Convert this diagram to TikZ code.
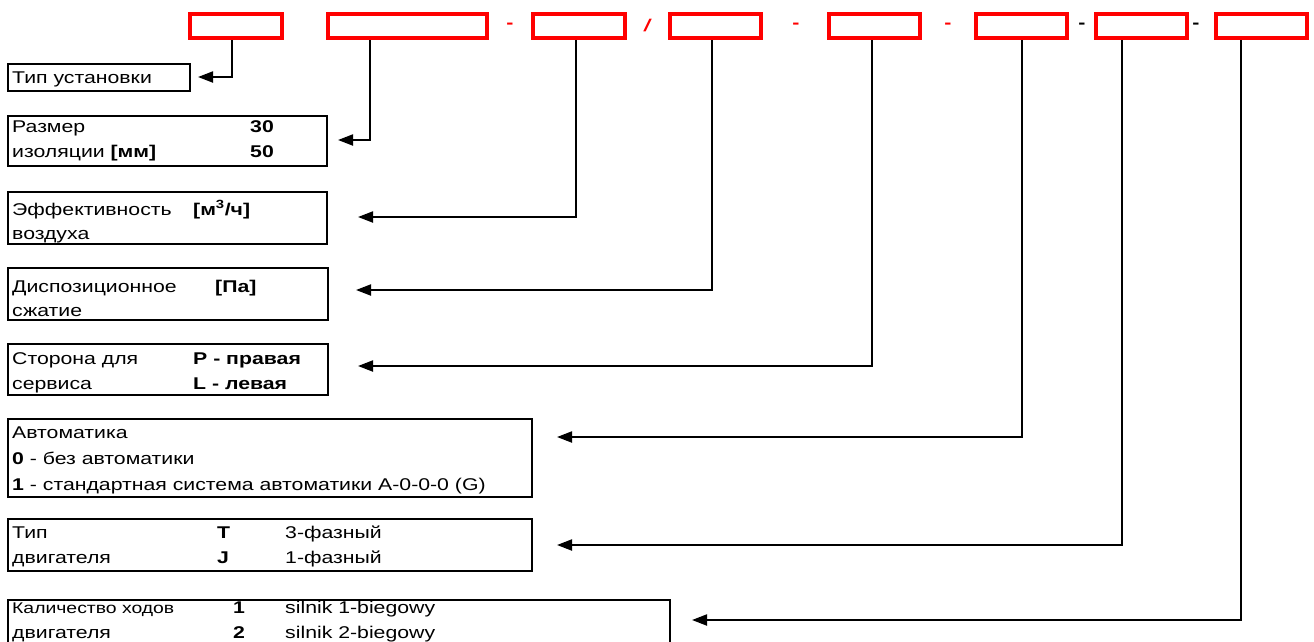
\documentclass[tikz,border=0pt]{standalone}
\usepackage{fontspec}
\setmainfont[FakeStretch=1.25]{Liberation Sans}
\usetikzlibrary{arrows.meta}
\tikzset{
  redbox/.style={draw=red, line width=4pt, minimum height=24pt, inner sep=0pt},
  tbox/.style={draw=black, line width=2pt, anchor=north west, inner sep=0pt},
  txt/.style={anchor=base west, inner sep=0pt, font=\fontsize{17}{20}\selectfont},
  smalltxt/.style={anchor=base west, inner sep=0pt, font=\fontsize{15.5}{18}\selectfont},
  sep/.style={inner sep=0pt, font=\fontsize{17}{20}\selectfont\bfseries},
  conn/.style={draw=black, line width=2pt, -{Triangle[length=15pt,width=11pt]}}
}
\begin{document}
\begin{tikzpicture}[x=1pt,y=-1pt]
\useasboundingbox (0,0) rectangle (1314,641);
\begin{scope}
\clip (0,0) rectangle (1314,641);
% red code boxes
\node[redbox, minimum width=92pt]  (r1) at (236,26) {};
\node[redbox, minimum width=159pt] (r2) at (407.5,26) {};
\node[redbox, minimum width=92pt]  (r3) at (579,26) {};
\node[redbox, minimum width=91pt]  (r4) at (715.5,26) {};
\node[redbox, minimum width=91pt]  (r5) at (874.5,26) {};
\node[redbox, minimum width=91pt]  (r6) at (1021.5,26) {};
\node[redbox, minimum width=91pt]  (r7) at (1141.5,26) {};
\node[redbox, minimum width=91pt]  (r8) at (1261.5,26) {};
% separators
\node[sep, text=red] (s1) at (510,26) {-};
\node[sep, text=red] (s2) at (647,26) {\itshape /};
\node[sep, text=red] (s3) at (796,26) {-};
\node[sep, text=red] (s4) at (948,26) {-};
\node[sep] (s5) at (1082,26) {-};
\node[sep] (s6) at (1196,26) {-};
% description boxes
\node[tbox, minimum width=182pt, minimum height=27pt] (t1) at (7,63) {};
\node[tbox, minimum width=319pt, minimum height=50pt] (t2) at (7,115) {};
\node[tbox, minimum width=319pt, minimum height=52pt] (t3) at (7,191) {};
\node[tbox, minimum width=320pt, minimum height=52pt] (t4) at (7,267) {};
\node[tbox, minimum width=320pt, minimum height=51pt] (t5) at (7,343) {};
\node[tbox, minimum width=524pt, minimum height=78pt] (t6) at (7,418) {};
\node[tbox, minimum width=524pt, minimum height=52pt] (t7) at (7,518) {};
\node[tbox, minimum width=662pt, minimum height=60pt] (t8) at (7,599) {};
% texts
\node[txt] (x1) at (12,83) {Тип установки};
\node[txt] (x2a) at (12,132) {Размер};
\node[txt] (x2b) at (12,157) {изоляции \textbf{[мм]}};
\node[txt] (x2c) at (250,132) {\textbf{30}};
\node[txt] (x2d) at (250,157) {\textbf{50}};
\node[txt] (x3a) at (12,215) {Эффективность};
\node[txt] (x3b) at (193,215) {\textbf{[м\textsuperscript{3}/ч]}};
\node[txt] (x3c) at (12,239) {воздуха};
\node[txt] (x4a) at (12,292) {Диспозиционное};
\node[txt] (x4b) at (215,292) {\textbf{[Па]}};
\node[txt] (x4c) at (12,316) {сжатие};
\node[txt] (x5a) at (12,364) {Сторона для};
\node[txt] (x5b) at (193,364) {\textbf{P - правая}};
\node[txt] (x5c) at (12,389) {сервиса};
\node[txt] (x5d) at (193,389) {\textbf{L - левая}};
\node[txt] (x6a) at (12,438) {Автоматика};
\node[txt] (x6b) at (12,464) {\textbf{0} - без автоматики};
\node[txt] (x6c) at (12,490) {\textbf{1} - стандартная система автоматики A-0-0-0 (G)};
\node[txt] (x7a) at (12,538) {Тип};
\node[txt] (x7b) at (217,538) {\textbf{T}};
\node[txt] (x7c) at (285,538) {3-фазный};
\node[txt] (x7d) at (12,563) {двигателя};
\node[txt] (x7e) at (217,563) {\textbf{J}};
\node[txt] (x7f) at (285,563) {1-фазный};
\node[smalltxt] (x8a) at (12,613) {Каличество ходов};
\node[txt] (x8b) at (233,613) {\textbf{1}};
\node[txt] (x8c) at (285,613) {silnik 1-biegowy};
\node[txt] (x8d) at (12,638) {двигателя};
\node[txt] (x8e) at (233,638) {\textbf{2}};
\node[txt] (x8f) at (285,638) {silnik 2-biegowy};
% connector corners and tips
\coordinate (k1) at (232,77);   \coordinate (a1) at (198,77);
\coordinate (k2) at (370,140);  \coordinate (a2) at (338,140);
\coordinate (k3) at (576,217);  \coordinate (a3) at (358,217);
\coordinate (k4) at (712,290);  \coordinate (a4) at (356,290);
\coordinate (k5) at (872,366);  \coordinate (a5) at (358,366);
\coordinate (k6) at (1022,437); \coordinate (a6) at (557,437);
\coordinate (k7) at (1122,545); \coordinate (a7) at (557,545);
\coordinate (k8) at (1241,620); \coordinate (a8) at (692,620);
\draw[conn] (r1.south -| k1) -- (k1) -- (a1);
\draw[conn] (r2.south -| k2) -- (k2) -- (a2);
\draw[conn] (r3.south -| k3) -- (k3) -- (a3);
\draw[conn] (r4.south -| k4) -- (k4) -- (a4);
\draw[conn] (r5.south -| k5) -- (k5) -- (a5);
\draw[conn] (r6.south -| k6) -- (k6) -- (a6);
\draw[conn] (r7.south -| k7) -- (k7) -- (a7);
\draw[conn] (r8.south -| k8) -- (k8) -- (a8);
\end{scope}
\end{tikzpicture}
\end{document}
